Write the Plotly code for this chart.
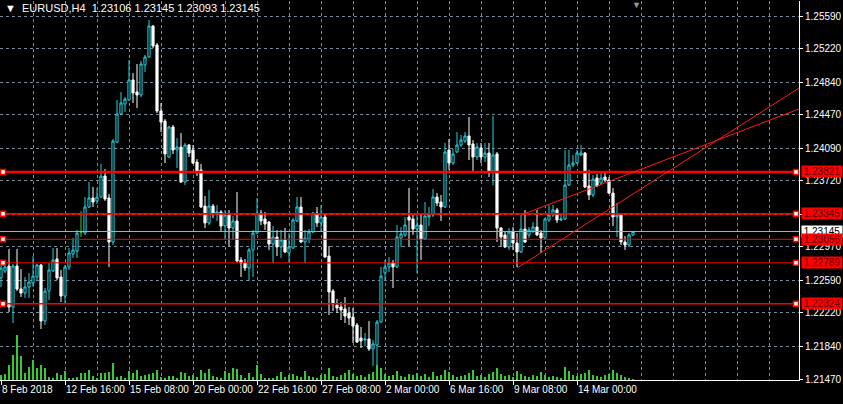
import plotly.graph_objects as go

# ---------------- data ----------------
opens = [1.22617, 1.22696, 1.22753, 1.22288, 1.22753, 1.22492, 1.22446, 1.22515, 1.2256, 1.22628,
         1.22764, 1.22129, 1.22469, 1.22696, 1.22832, 1.22628, 1.22412, 1.22742, 1.22889, 1.22923,
         1.23139, 1.23127, 1.23423, 1.23525, 1.23491, 1.23536, 1.23774, 1.23525, 1.23025, 1.2416,
         1.24478, 1.24592, 1.24637, 1.24864, 1.24728, 1.24694, 1.25034, 1.25125, 1.25477, 1.25261,
         1.24512, 1.24399, 1.2399, 1.24331, 1.2407, 1.24104, 1.23706, 1.24126, 1.2407, 1.23933,
         1.23843, 1.23434, 1.23241, 1.23434, 1.23354, 1.23366, 1.23207, 1.23332, 1.23184, 1.23264,
         1.22821, 1.22787, 1.2273, 1.22935, 1.23127, 1.23354, 1.23286, 1.23252, 1.23003, 1.23082,
         1.22969, 1.23048, 1.229, 1.22957, 1.23264, 1.23423, 1.23025, 1.23059, 1.23139, 1.23354,
         1.23241, 1.23309, 1.22866, 1.22469, 1.2231, 1.22288, 1.22265, 1.22219, 1.22174, 1.22083,
         1.21936, 1.21913, 1.21924, 1.21811, 1.21856, 1.22117, 1.22673, 1.22742, 1.22787, 1.22742,
         1.23071, 1.23105, 1.23309, 1.23286, 1.23173, 1.23218, 1.23059, 1.23309, 1.23332, 1.23536,
         1.23479, 1.23423, 1.2407, 1.23922, 1.24047, 1.24126, 1.24172, 1.24228, 1.24138, 1.2399,
         1.24092, 1.2399, 1.24035, 1.23831, 1.24024, 1.23184, 1.23105, 1.22969, 1.23139, 1.23014,
         1.22912, 1.23173, 1.23105, 1.2315, 1.23196, 1.23127, 1.23071, 1.23275, 1.23332, 1.23389,
         1.23275, 1.23286, 1.23672, 1.23899, 1.23922, 1.24013, 1.24035, 1.23661, 1.23559, 1.23752,
         1.23695, 1.23763, 1.23729, 1.23581, 1.23309, 1.23332, 1.23025, 1.22991, 1.23106]
highs = [1.22764, 1.22798, 1.22946, 1.22776, 1.22946, 1.22719, 1.22628, 1.22673, 1.22866, 1.22776,
         1.22776, 1.22503, 1.22787, 1.22957, 1.22957, 1.22708, 1.22764, 1.22957, 1.23071, 1.23162,
         1.23377, 1.23536, 1.23706, 1.2365, 1.23638, 1.23911, 1.23854, 1.2357, 1.24194, 1.24637,
         1.24728, 1.24671, 1.25091, 1.24943, 1.25046, 1.2508, 1.25148, 1.25545, 1.25488, 1.25284,
         1.24603, 1.24421, 1.24342, 1.24353, 1.24206, 1.24262, 1.24149, 1.24138, 1.24126, 1.23967,
         1.23911, 1.23547, 1.23616, 1.23457, 1.23445, 1.23389, 1.23389, 1.23389, 1.2332, 1.23593,
         1.22855, 1.22832, 1.22957, 1.23162, 1.23525, 1.23389, 1.23366, 1.23264, 1.23207, 1.23162,
         1.23162, 1.23184, 1.23127, 1.23298, 1.23536, 1.23536, 1.23162, 1.23173, 1.23366, 1.23423,
         1.23445, 1.23354, 1.2298, 1.22492, 1.22378, 1.22344, 1.22401, 1.22288, 1.22276, 1.22106,
         1.22061, 1.21992, 1.22129, 1.21913, 1.2214, 1.22742, 1.22821, 1.22855, 1.22821, 1.23218,
         1.23196, 1.23309, 1.23638, 1.23332, 1.23332, 1.23332, 1.23479, 1.23423, 1.23627, 1.23581,
         1.23559, 1.24149, 1.24194, 1.24081, 1.24274, 1.2424, 1.24274, 1.24444, 1.24183, 1.24149,
         1.24149, 1.24149, 1.24149, 1.24455, 1.24047, 1.23196, 1.23139, 1.23184, 1.23196, 1.23127,
         1.23332, 1.23389, 1.23196, 1.23252, 1.23389, 1.23162, 1.23298, 1.23445, 1.23445, 1.23411,
         1.23354, 1.2407, 1.2407, 1.24013, 1.2407, 1.24126, 1.24047, 1.23843, 1.23786, 1.23797,
         1.23808, 1.23808, 1.23763, 1.23638, 1.23468, 1.23332, 1.23093, 1.23127, 1.23145]
lows = [1.22515, 1.22673, 1.22231, 1.22106, 1.22469, 1.22401, 1.2239, 1.2239, 1.22515, 1.22583,
        1.22038, 1.22083, 1.22367, 1.22685, 1.22594, 1.22344, 1.22333, 1.22708, 1.22844, 1.22844,
        1.23082, 1.23105, 1.23411, 1.23423, 1.23457, 1.23525, 1.23491, 1.22742, 1.22991, 1.24149,
        1.24467, 1.24501, 1.24626, 1.24603, 1.24546, 1.24671, 1.24955, 1.25114, 1.25227, 1.24489,
        1.24274, 1.23922, 1.23979, 1.24024, 1.23865, 1.23695, 1.23672, 1.2399, 1.23911, 1.23774,
        1.23411, 1.23184, 1.23218, 1.23298, 1.23264, 1.2315, 1.23048, 1.2298, 1.23048, 1.22798,
        1.22628, 1.22696, 1.22583, 1.22628, 1.23116, 1.23218, 1.23162, 1.22935, 1.22787, 1.22866,
        1.22844, 1.229, 1.22787, 1.22946, 1.23252, 1.23014, 1.22787, 1.23014, 1.23127, 1.23196,
        1.23139, 1.22844, 1.22197, 1.22242, 1.22219, 1.2214, 1.22106, 1.22083, 1.21879, 1.21879,
        1.21822, 1.21845, 1.21788, 1.21618, 1.21607, 1.22106, 1.22594, 1.22685, 1.22503, 1.2273,
        1.22969, 1.23082, 1.2298, 1.23105, 1.22673, 1.22821, 1.23048, 1.23207, 1.23309, 1.23434,
        1.23264, 1.23411, 1.23843, 1.23899, 1.24035, 1.24104, 1.24149, 1.23956, 1.23831, 1.23956,
        1.23922, 1.23933, 1.23763, 1.23672, 1.23025, 1.22969, 1.22957, 1.22935, 1.22935, 1.22742,
        1.229, 1.23014, 1.23071, 1.23127, 1.23093, 1.229, 1.23059, 1.23252, 1.23309, 1.23241,
        1.23264, 1.23275, 1.23661, 1.23877, 1.23911, 1.24001, 1.23638, 1.23502, 1.23536, 1.2365,
        1.23672, 1.23706, 1.2357, 1.23207, 1.23082, 1.22991, 1.22935, 1.22969, 1.23093]
closes = [1.2273, 1.22742, 1.22288, 1.22753, 1.22492, 1.22446, 1.22515, 1.22571, 1.22639, 1.22764,
          1.22129, 1.22469, 1.22708, 1.22821, 1.22617, 1.22412, 1.22742, 1.229, 1.22935, 1.23127,
          1.23139, 1.23423, 1.23525, 1.23479, 1.23536, 1.23774, 1.23513, 1.23025, 1.24172, 1.24478,
          1.24603, 1.24648, 1.24864, 1.24716, 1.24694, 1.25046, 1.25125, 1.25477, 1.2525, 1.24512,
          1.24387, 1.24024, 1.24331, 1.2407, 1.24104, 1.23706, 1.24126, 1.24035, 1.23922, 1.23831,
          1.23423, 1.23241, 1.23434, 1.23354, 1.23366, 1.23207, 1.23332, 1.23184, 1.23264, 1.2281,
          1.22787, 1.2273, 1.22935, 1.23127, 1.23354, 1.23264, 1.2323, 1.23003, 1.23082, 1.22969,
          1.23048, 1.22912, 1.22969, 1.23275, 1.23423, 1.23025, 1.23071, 1.23139, 1.23354, 1.23241,
          1.23309, 1.22855, 1.22458, 1.22322, 1.22276, 1.22254, 1.22185, 1.22163, 1.22072, 1.2189,
          1.21902, 1.21924, 1.21811, 1.21868, 1.22117, 1.22639, 1.22742, 1.22787, 1.22742, 1.23082,
          1.23116, 1.23218, 1.23275, 1.23173, 1.23218, 1.23059, 1.2332, 1.23332, 1.23536, 1.23468,
          1.23423, 1.24047, 1.23922, 1.24024, 1.24126, 1.24183, 1.24228, 1.24126, 1.2399, 1.24104,
          1.2399, 1.24035, 1.2382, 1.24013, 1.23184, 1.23082, 1.22969, 1.23139, 1.23014, 1.22912,
          1.23173, 1.23025, 1.23162, 1.23196, 1.23105, 1.23071, 1.23286, 1.23332, 1.23389, 1.23275,
          1.23286, 1.23672, 1.23899, 1.23922, 1.24035, 1.24035, 1.2365, 1.23559, 1.2374, 1.23661,
          1.23752, 1.23729, 1.23581, 1.23309, 1.23332, 1.23025, 1.22991, 1.23105, 1.23145]
volumes = [500, 600, 1500, 2500, 4500, 2400, 700, 1300, 2000, 1200, 1500, 1200, 300, 200, 700, 500,
           900, 200, 200, 300, 700, 700, 1000, 400, 200, 700, 700, 800, 1700, 300, 400, 200, 900,
           700, 1000, 400, 500, 600, 700, 1000, 300, 200, 400, 400, 200, 800, 700, 400, 500, 300,
           1000, 700, 1100, 400, 300, 200, 900, 700, 1200, 1100, 500, 200, 700, 300, 1500, 600, 200,
           200, 200, 400, 800, 300, 500, 600, 400, 300, 900, 400, 300, 200, 500, 600, 1200, 400, 300,
           500, 700, 1000, 600, 400, 500, 300, 600, 800, 1500, 1200, 600, 400, 500, 900, 400, 300,
           600, 500, 700, 400, 600, 300, 800, 400, 500, 1000, 800, 500, 300, 400, 500, 700, 1000,
           400, 500, 300, 600, 800, 1200, 600, 400, 500, 300, 900, 600, 400, 300, 500, 400, 800, 500,
           300, 400, 300, 200, 1300, 900, 500, 400, 600, 700, 1000, 500, 400, 300, 500, 600, 1000,
           700, 500, 300, 200, 100]

tick_bars = [0, 16, 32, 48, 64, 80, 96, 112, 128, 144]
tick_labels = ["8 Feb 2018", "12 Feb 16:00", "15 Feb 08:00", "20 Feb 00:00", "22 Feb 16:00",
               "27 Feb 08:00", "2 Mar 00:00", "6 Mar 16:00", "9 Mar 08:00", "14 Mar 00:00"]
grid_step_bars = 8
price_ticks = [1.25590, 1.25220, 1.24840, 1.24470, 1.24090, 1.23720, 1.23340,
               1.22970, 1.22590, 1.22220, 1.21840, 1.21470]
levels = [1.23821, 1.23345, 1.23056, 1.22789, 1.22324]
level_widths = [2.5, 1.6, 1, 1, 1.6]
current_price = 1.23145
trend_lines = [((129, 1.22730), (199.5, 1.24773)),
               ((130, 1.23332), (199.5, 1.24535))]
header = "EURUSD,H4  1.23106 1.23145 1.23093 1.23145"

# ---------------- figure ----------------
X_MIN, X_MAX = -0.25, 199.5
Y_MIN, Y_MAX = 1.21459, 1.25761
FONT = "Liberation Sans"
CYAN = "#22d3e0"
WHITE = "#ffffff"
GRID = "#778899"

n = len(opens)
xs = list(range(n))
doji = [i for i in xs if opens[i] == closes[i]]
norm = [i for i in xs if opens[i] != closes[i]]

fig = go.Figure()

# volume
fig.add_trace(go.Bar(x=xs, y=volumes, width=0.28, marker=dict(color="#32cd32", line=dict(width=0)),
                     yaxis="y2", hoverinfo="skip", showlegend=False))

# current price line
fig.add_trace(go.Scatter(x=[X_MIN, X_MAX], y=[current_price, current_price], mode="lines",
                         line=dict(color="#a9b3bf", width=1), hoverinfo="skip", showlegend=False))

# horizontal levels
for lv, w in zip(levels, level_widths):
    fig.add_trace(go.Scatter(x=[X_MIN, X_MAX], y=[lv, lv], mode="lines",
                             line=dict(color="#ff0000", width=w), hoverinfo="skip", showlegend=False))

# trend lines (rays)
for (x0, y0), (x1, y1) in trend_lines:
    fig.add_trace(go.Scatter(x=[x0, x1], y=[y0, y1], mode="lines",
                             line=dict(color="#ff1a1a", width=1), hoverinfo="skip", showlegend=False))

# candles
fig.add_trace(go.Candlestick(
    x=norm, open=[opens[i] for i in norm], high=[highs[i] for i in norm],
    low=[lows[i] for i in norm], close=[closes[i] for i in norm],
    increasing=dict(line=dict(color=CYAN, width=1), fillcolor="#000000"),
    decreasing=dict(line=dict(color=WHITE, width=1), fillcolor=WHITE),
    whiskerwidth=0, showlegend=False, hoverinfo="skip"))
if doji:
    fig.add_trace(go.Candlestick(
        x=doji, open=[opens[i] for i in doji], high=[highs[i] for i in doji],
        low=[lows[i] for i in doji], close=[closes[i] for i in doji],
        increasing=dict(line=dict(color="#32cd32", width=1), fillcolor="#32cd32"),
        decreasing=dict(line=dict(color="#32cd32", width=1), fillcolor="#32cd32"),
        whiskerwidth=0, showlegend=False, hoverinfo="skip"))

# anchor squares on the level lines
anchor_x = [X_MIN + 0.75, X_MAX - 0.75]
fig.add_trace(go.Scatter(
    x=[ax for lv in levels for ax in anchor_x], y=[lv for lv in levels for _ in anchor_x],
    mode="markers", marker=dict(symbol="square", size=5, color="#ffffff",
                                line=dict(color="#ff0000", width=1.5)),
    hoverinfo="skip", showlegend=False))

annotations = []
annotations.append(dict(xref="paper", yref="paper", x=0, y=1, xanchor="left", yanchor="top",
                        xshift=3, yshift=1, showarrow=False,
                        text="\u25BC  " + header,
                        font=dict(family=FONT, size=11, color=WHITE)))
annotations.append(dict(xref="paper", yref="paper", x=(636 / 799), y=1, xanchor="center", yanchor="top",
                        yshift=3, showarrow=False, text="\u25BC",
                        font=dict(family=FONT, size=9, color="#9a9a9a")))
annotations.append(dict(xref="paper", yref="y", x=1, y=current_price, xanchor="left", yanchor="middle",
                        xshift=2, showarrow=False, text=f"{current_price:.5f}", bgcolor="#ffffff",
                        width=40, height=11, borderpad=0,
                        font=dict(family=FONT, size=10, color="#000000")))
for lv in levels:
    annotations.append(dict(xref="paper", yref="y", x=1, y=lv, xanchor="left", yanchor="middle",
                            xshift=2, showarrow=False, text=f"{lv:.5f}", bgcolor="#ff0000",
                            width=40, height=11, borderpad=0,
                            font=dict(family=FONT, size=10, color="#600000")))

fig.update_layout(
    width=843, height=404,
    margin=dict(l=0, r=44, t=1, b=24, autoexpand=False),
    paper_bgcolor="#000000", plot_bgcolor="#000000",
    showlegend=False, bargap=0, boxgap=0.22,
    annotations=annotations,
    xaxis=dict(range=[X_MIN, X_MAX], rangeslider=dict(visible=False),
               tickvals=tick_bars, ticktext=tick_labels, ticklabelposition="outside right",
               tickangle=0, automargin=False,
               ticks="outside", ticklen=4, tickcolor=WHITE,
               tickfont=dict(family=FONT, size=10, color=WHITE),
               showgrid=True, gridcolor=GRID, gridwidth=1, griddash="3px,3px",
               minor=dict(tickvals=list(range(0, 200, grid_step_bars)), showgrid=True,
                          gridcolor=GRID, gridwidth=1, griddash="3px,3px", ticks=""),
               showline=True, linecolor=WHITE, linewidth=1, zeroline=False, fixedrange=True),
    yaxis=dict(range=[Y_MIN, Y_MAX], side="right", tickvals=price_ticks,
               ticktext=[f"{v:.5f}" for v in price_ticks], automargin=False,
               ticks="outside", ticklen=3, tickcolor=WHITE,
               tickfont=dict(family=FONT, size=10, color=WHITE),
               showgrid=True, gridcolor=GRID, gridwidth=1, griddash="3px,3px",
               showline=True, linecolor=WHITE, linewidth=1, zeroline=False, fixedrange=True),
    yaxis2=dict(overlaying="y", range=[0, 37900], visible=False, fixedrange=True),
)

fig.write_html("out.html", config={"displayModeBar": False, "staticPlot": True},
               post_script="document.body.style.margin='0';document.body.style.background='#000';")
